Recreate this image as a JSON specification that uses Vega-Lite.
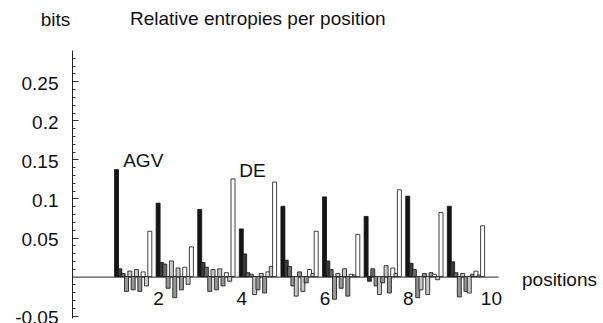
{
  "$schema": "https://vega.github.io/schema/vega-lite/v6.json",
  "width": 426,
  "height": 268,
  "autosize": {"type": "none"},
  "padding": {"left": 72, "top": 50, "right": 105, "bottom": 5},
  "background": "white",
  "title": {"text": "Relative entropies per position", "anchor": "start", "frame": "group", "dx": 58, "offset": -34, "baseline": "alphabetic", "fontSize": 19, "font": "Liberation Sans", "fontWeight": "normal", "color": "#111"},
  "config": {"view": {"stroke": null}, "font": "Liberation Sans"},
  "encoding": {
    "x": {"field": "x", "type": "quantitative",
      "scale": {"domain": [0.05, 10.05], "nice": false, "zero": false},
      "axis": {"title": "positions", "titleX": 487, "titleY": 9, "titleAlign": "center", "titleBaseline": "alphabetic", "titleFontSize": 19, "titleFontWeight": "normal", "titleColor": "#111", "titleFont": "Liberation Sans",
        "values": [2, 4, 6, 8, 10], "offset": -41.4, "ticks": false, "labelPadding": 13, "labelBaseline": "top", "labelFontSize": 19, "labelColor": "#111", "labelFont": "Liberation Sans", "labelFlush": false, "grid": false, "domainColor": "#222"}},
    "y": {"field": "v", "type": "quantitative",
      "scale": {"domain": [-0.053, 0.29], "nice": false},
      "axis": {"title": "bits", "titleAngle": 0, "titleX": -17, "titleY": -25, "titleAlign": "center", "titleBaseline": "alphabetic", "titleFontSize": 19, "titleFontWeight": "normal", "titleColor": "#111", "titleFont": "Liberation Sans",
        "values": [-0.05,-0.04,-0.03,-0.02,-0.01,0.01,0.02,0.03,0.04,0.05,0.06,0.07,0.08,0.09,0.1,0.11,0.12,0.13,0.14,0.15,0.16,0.17,0.18,0.19,0.2,0.21,0.22,0.23,0.24,0.25,0.26,0.27,0.28],
        "labelExpr": "(round(datum.value*100) % 5 == 0) ? '' + round(datum.value*100)/100 : ''",
        "labelFontSize": 19,
        "labelColor": "#111", "labelFont": "Liberation Sans", "labelPadding": 20, "labelOffset": 2, "labelOverlap": false, "labelFlush": false, "labelBaseline": "middle",
        "tickSize": {"condition": {"test": "round(datum.value*100) % 5 == 0", "value": -6}, "value": -3},
        "tickColor": "#333", "domainColor": "#222", "grid": false}}
  },
  "layer": [
    {
      "data": {"values": [
        {"x":1.00,"v":0.137,"g":"A"},{"x":1.08,"v":0.010,"g":"B"},{"x":1.16,"v":0.004,"g":"C"},{"x":1.24,"v":-0.019,"g":"D"},{"x":1.32,"v":0.007,"g":"E"},{"x":1.40,"v":-0.017,"g":"D"},{"x":1.48,"v":0.009,"g":"E"},{"x":1.56,"v":-0.019,"g":"D"},{"x":1.64,"v":0.006,"g":"F"},{"x":1.72,"v":-0.012,"g":"E"},{"x":1.80,"v":0.058,"g":"F"},
        {"x":2.00,"v":0.094,"g":"A"},{"x":2.08,"v":0.018,"g":"B"},{"x":2.16,"v":0.016,"g":"C"},{"x":2.24,"v":-0.015,"g":"D"},{"x":2.32,"v":0.020,"g":"E"},{"x":2.40,"v":-0.027,"g":"D"},{"x":2.48,"v":0.011,"g":"E"},{"x":2.56,"v":-0.017,"g":"D"},{"x":2.64,"v":0.012,"g":"F"},{"x":2.72,"v":-0.010,"g":"E"},{"x":2.80,"v":0.038,"g":"F"},
        {"x":3.00,"v":0.086,"g":"A"},{"x":3.08,"v":0.018,"g":"B"},{"x":3.16,"v":0.012,"g":"C"},{"x":3.24,"v":-0.019,"g":"D"},{"x":3.32,"v":0.009,"g":"E"},{"x":3.40,"v":-0.017,"g":"D"},{"x":3.48,"v":0.010,"g":"E"},{"x":3.56,"v":-0.012,"g":"D"},{"x":3.64,"v":0.005,"g":"F"},{"x":3.72,"v":-0.006,"g":"E"},{"x":3.80,"v":0.125,"g":"F"},
        {"x":4.00,"v":0.061,"g":"A"},{"x":4.08,"v":0.029,"g":"B"},{"x":4.16,"v":0.005,"g":"C"},{"x":4.24,"v":0.003,"g":"D"},{"x":4.32,"v":-0.023,"g":"E"},{"x":4.40,"v":-0.017,"g":"D"},{"x":4.48,"v":0.004,"g":"E"},{"x":4.56,"v":-0.021,"g":"D"},{"x":4.64,"v":0.006,"g":"F"},{"x":4.72,"v":0.013,"g":"E"},{"x":4.80,"v":0.121,"g":"F"},
        {"x":5.00,"v":0.090,"g":"A"},{"x":5.08,"v":0.021,"g":"B"},{"x":5.16,"v":0.013,"g":"C"},{"x":5.24,"v":-0.012,"g":"D"},{"x":5.32,"v":-0.025,"g":"E"},{"x":5.40,"v":0.006,"g":"D"},{"x":5.48,"v":-0.019,"g":"E"},{"x":5.56,"v":-0.008,"g":"D"},{"x":5.64,"v":0.009,"g":"F"},{"x":5.72,"v":0.004,"g":"E"},{"x":5.80,"v":0.058,"g":"F"},
        {"x":6.00,"v":0.102,"g":"A"},{"x":6.08,"v":0.020,"g":"B"},{"x":6.16,"v":0.009,"g":"C"},{"x":6.24,"v":-0.029,"g":"D"},{"x":6.32,"v":0.004,"g":"E"},{"x":6.40,"v":-0.015,"g":"D"},{"x":6.48,"v":0.010,"g":"E"},{"x":6.56,"v":-0.025,"g":"D"},{"x":6.64,"v":0.003,"g":"F"},{"x":6.72,"v":0.002,"g":"E"},{"x":6.80,"v":0.054,"g":"F"},
        {"x":7.00,"v":0.077,"g":"A"},{"x":7.08,"v":-0.006,"g":"B"},{"x":7.16,"v":0.010,"g":"C"},{"x":7.24,"v":-0.012,"g":"D"},{"x":7.32,"v":-0.023,"g":"E"},{"x":7.40,"v":-0.008,"g":"D"},{"x":7.48,"v":0.014,"g":"E"},{"x":7.56,"v":-0.021,"g":"D"},{"x":7.64,"v":0.011,"g":"F"},{"x":7.72,"v":0.004,"g":"E"},{"x":7.80,"v":0.111,"g":"F"},
        {"x":8.00,"v":0.103,"g":"A"},{"x":8.08,"v":0.017,"g":"B"},{"x":8.16,"v":0.009,"g":"C"},{"x":8.24,"v":-0.027,"g":"D"},{"x":8.32,"v":-0.017,"g":"E"},{"x":8.40,"v":0.004,"g":"D"},{"x":8.48,"v":-0.023,"g":"E"},{"x":8.56,"v":0.005,"g":"D"},{"x":8.64,"v":0.003,"g":"F"},{"x":8.72,"v":-0.004,"g":"E"},{"x":8.80,"v":0.082,"g":"F"},
        {"x":9.00,"v":0.090,"g":"A"},{"x":9.08,"v":0.019,"g":"B"},{"x":9.16,"v":0.005,"g":"C"},{"x":9.24,"v":-0.026,"g":"D"},{"x":9.32,"v":0.004,"g":"E"},{"x":9.40,"v":-0.019,"g":"D"},{"x":9.48,"v":-0.021,"g":"E"},{"x":9.56,"v":0.003,"g":"D"},{"x":9.64,"v":0.007,"g":"F"},{"x":9.72,"v":0.002,"g":"E"},{"x":9.80,"v":0.065,"g":"F"}
      ]},
      "mark": {"type": "bar", "width": 4, "stroke": "#111", "strokeWidth": 0.8},
      "encoding": {
        "color": {"field": "g", "type": "nominal", "legend": null,
          "scale": {"domain": ["A","B","C","D","E","F"], "range": ["#161616","#3a3a3a","#6a6a6a","#959595","#c8c8c8","#ffffff"]}}
      }
    },
    {
      "data": {"values": [
        {"x": 1.16, "v": 0.140, "t": "AGV"},
        {"x": 3.95, "v": 0.128, "t": "DE"}
      ]},
      "mark": {"type": "text", "align": "left", "baseline": "alphabetic", "fontSize": 19, "font": "Liberation Sans", "color": "#111"},
      "encoding": {
        "text": {"field": "t"}
      }
    }
  ]
}
